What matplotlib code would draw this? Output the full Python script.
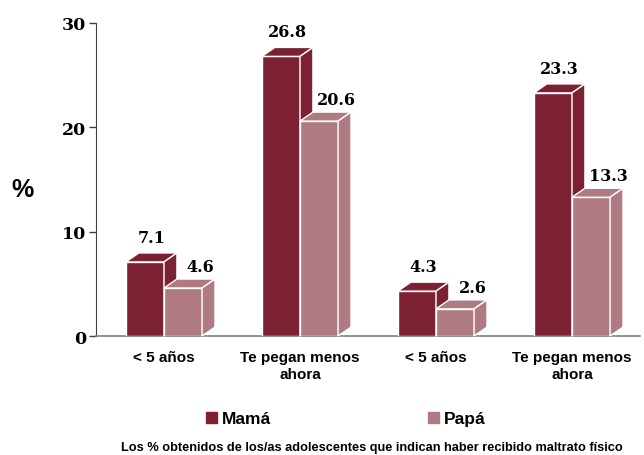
import matplotlib.pyplot as plt
from matplotlib.patches import Polygon, Patch

# Maltrato físico: Mamá vs Papá
categories = ["< 5 años", "Te pegan menos\nahora", "< 5 años", "Te pegan menos\nahora"]
mama = [7.1, 26.8, 4.3, 23.3]
papa = [4.6, 20.6, 2.6, 13.3]
series_names = ["Mamá", "Papá"]
yticks = [0, 10, 20, 30]
footnote = "Los % obtenidos de los/as adolescentes que indican haber recibido maltrato físico"

mama_color = "#7B2131"
papa_color = "#AF7A82"

fig = plt.figure(figsize=(6.44, 4.56), dpi=100)
ax = fig.add_axes([96 / 644, 1 - 337 / 456, 544 / 644, 313 / 456])
ax.set_xlim(0, 4)
ax.set_ylim(0, 30)

width = 0.28
dx = 0.095   # fake 3d depth, x units
dy = 0.86    # fake 3d depth, y units


def bar3d(x0, h, color, z, pad, shift):
    ax.bar(x0, h, width, align="edge", color=color, edgecolor="white", linewidth=1, zorder=z)
    top = [(x0, h), (x0 + dx, h + dy), (x0 + width + dx, h + dy), (x0 + width, h)]
    side = [(x0 + width, 0), (x0 + width, h), (x0 + width + dx, h + dy), (x0 + width + dx, dy)]
    for pts in (top, side):
        ax.add_patch(Polygon(pts, closed=True, facecolor=color, edgecolor="white",
                             linewidth=1, zorder=z, clip_on=False))
    ax.annotate(f"{h}", (x0 + width / 2 + dx / 2, h + dy), xytext=(shift, pad),
                textcoords="offset points", ha="center", va="bottom",
                fontsize=11.5, fontweight="bold", family="DejaVu Serif", zorder=10)


for i in range(len(categories)):
    start = i + 0.5 - width
    bar3d(start, mama[i], mama_color, 3 + 2 * i, 5, 0)
    bar3d(start + width, papa[i], papa_color, 4 + 2 * i, 3, 8)

ax.set_xticks([i + 0.5 for i in range(len(categories))])
ax.set_xticklabels(categories, fontsize=11, fontweight="bold", family="Liberation Sans",
                   linespacing=1.3)
ax.tick_params(axis="x", length=0, pad=10)
ax.set_yticks(yticks)
ax.set_yticklabels([str(t) for t in yticks], fontsize=12.5, fontweight="bold", family="DejaVu Serif")
ax.tick_params(axis="y", length=5, width=1, color="#404040", pad=2)

for s in ["top", "right"]:
    ax.spines[s].set_visible(False)
ax.spines["left"].set_color("#404040")
ax.spines["bottom"].set_color("#808080")
ax.spines["bottom"].set_linewidth(1.2)

fig.text(22 / 644, 1 - 190 / 456, "%", fontsize=18, fontweight="bold",
         family="Liberation Sans", ha="center", va="center")

handles = [Patch(color=mama_color), Patch(color=papa_color)]
fig.legend(handles, series_names, loc="center", bbox_to_anchor=(0.537, 1 - 420 / 456),
           ncol=2, frameon=False, handlelength=0.6, handleheight=0.6, handletextpad=0.3,
           columnspacing=9.05, prop={"family": "Liberation Sans", "weight": "bold", "size": 12.5})

fig.text(0.578, 1 - 448 / 456, footnote, fontsize=9.2, fontweight="bold",
         family="Liberation Sans", ha="center", va="center")

plt.savefig("out.png", dpi=100)
